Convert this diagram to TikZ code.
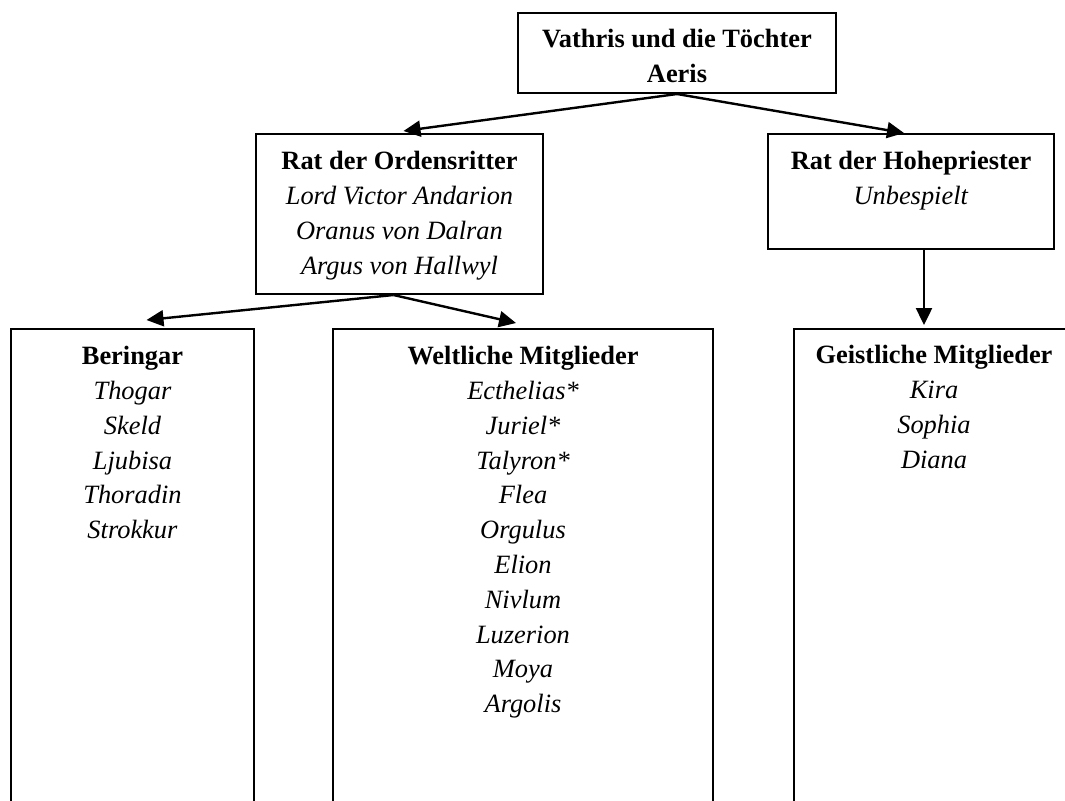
\documentclass[tikz,border=0pt]{standalone}
\usepackage{fontspec}
\setmainfont{Liberation Serif}
\usetikzlibrary{positioning, arrows.meta}

\begin{document}
\begin{tikzpicture}[x=0.5pt, y=-0.5pt,
    box/.style={draw, line width=1pt, anchor=north west, inner sep=0pt},
    liste/.style={align=center, inner sep=0pt, font=\fontsize{13.2}{17.4}\selectfont},
    pfeil/.style={line width=1.2pt, -{Triangle[length=8.5pt, width=8pt]}}]
    \useasboundingbox (0,0) rectangle (1065,800);
    \clip (0,0) rectangle (1065,800);

    % Kaesten
    \node[box, minimum width=159pt, minimum height=40pt] (vathris) at (517,12) {};
    \node[box, minimum width=143.5pt, minimum height=80pt] (ordensritter) at (255,133) {};
    \node[box, minimum width=143pt, minimum height=57.5pt] (hohepriester) at (767,133) {};
    \node[box, minimum width=121.5pt, minimum height=246pt] (beringar) at (10,328) {};
    \node[box, minimum width=190pt, minimum height=246pt] (weltlich) at (332,328) {};
    \node[box, minimum width=140pt, minimum height=246pt] (geistlich) at (793,328) {};

    % Texte
    \node[liste, below=8.5pt of vathris.north] (vathris-text)
        {\textbf{Vathris und die Töchter}\\\textbf{Aeris}};
    \node[liste, below=9pt of ordensritter.north] (ordensritter-text)
        {\textbf{Rat der Ordensritter}\\\textit{Lord Victor Andarion}\\
         \textit{Oranus von Dalran}\\\textit{Argus von Hallwyl}};
    \node[liste, below=9pt of hohepriester.north] (hohepriester-text)
        {\textbf{Rat der Hohepriester}\\\textit{Unbespielt}};
    \node[liste, below=9pt of beringar.north] (beringar-text)
        {\textbf{Beringar}\\\textit{Thogar}\\\textit{Skeld}\\\textit{Ljubisa}\\
         \textit{Thoradin}\\\textit{Strokkur}};
    \node[liste, below=9pt of weltlich.north] (weltlich-text)
        {\textbf{Weltliche Mitglieder}\\\textit{Ecthelias*}\\\textit{Juriel*}\\
         \textit{Talyron*}\\\textit{Flea}\\\textit{Orgulus}\\\textit{Elion}\\
         \textit{Nivlum}\\\textit{Luzerion}\\\textit{Moya}\\\textit{Argolis}};
    \node[liste, below=8.5pt of geistlich.north] (geistlich-text)
        {\textbf{Geistliche Mitglieder}\\\textit{Kira}\\\textit{Sophia}\\\textit{Diana}};

    % Pfeile
    \draw[pfeil] (vathris.south) -- ([xshift=2pt, yshift=1pt]ordensritter.north);
    \draw[pfeil] (vathris.south) -- ([xshift=-3.5pt]hohepriester.north);
    \draw[pfeil] ([xshift=-3pt]ordensritter.south) -- ([xshift=7pt, yshift=4pt]beringar.north);
    \draw[pfeil] ([xshift=-3pt]ordensritter.south) -- ([xshift=-3.5pt, yshift=2.5pt]weltlich.north);
    \coordinate (geistlich-ziel) at ([xshift=-5pt, yshift=1.5pt]geistlich.north);
    \draw[pfeil] (hohepriester.south -| geistlich-ziel) -- (geistlich-ziel);
\end{tikzpicture}
\end{document}
